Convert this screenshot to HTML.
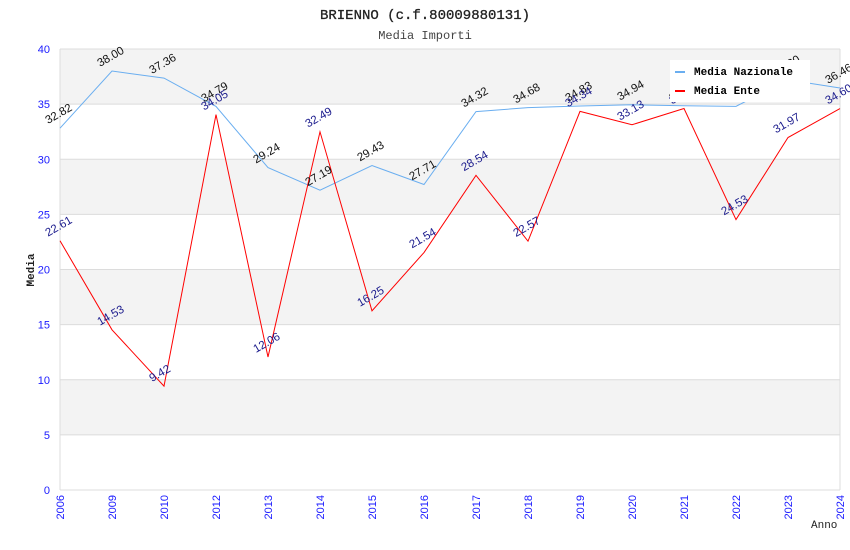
<!DOCTYPE html>
<html><head><meta charset="utf-8"><style>
body{margin:0;background:#fff;}
svg{display:block;font-family:"Liberation Sans",sans-serif;}
.mono{font-family:"Liberation Mono",monospace;}
</style></head><body>
<svg id="chart" width="850" height="550">
<text class="mono" x="425" y="19" text-anchor="middle" font-size="14" fill="#222" stroke="#222" stroke-width="0.3">BRIENNO (c.f.80009880131)</text>
<text class="mono" x="425" y="39" text-anchor="middle" font-size="12" fill="#444">Media Importi</text>
<g id="grid"></g>
<g id="series"></g>
<g id="labels"></g>
<text class="mono" x="34" y="270" transform="rotate(-90 34 270)" text-anchor="middle" font-size="11" font-weight="bold" fill="#222">Media</text>
<text class="mono" x="811" y="528" font-size="11" fill="#222">Anno</text>
<g>
<rect x="670" y="60" width="140" height="42" fill="#fff"/>
<g><rect x="675" y="71" width="10" height="2" fill="#6aaef0"/>
<text class="mono" x="694" y="75" font-size="11" font-weight="bold" fill="#000">Media Nazionale</text></g>
<g><rect x="675" y="90" width="10" height="2" fill="#f00"/>
<text class="mono" x="694" y="94" font-size="11" font-weight="bold" fill="#000">Media Ente</text></g>
</g>
</svg>
<script>
const years=["2006","2009","2010","2012","2013","2014","2015","2016","2017","2018","2019","2020","2021","2022","2023","2024"];
const nazionale=[32.82,38.00,37.36,34.79,29.24,27.19,29.43,27.71,34.32,34.68,34.83,34.94,34.85,34.80,37.20,36.46];
const ente=[22.61,14.53,9.42,34.05,12.06,32.49,16.25,21.54,28.54,22.57,34.34,33.13,34.60,24.53,31.97,34.60];
const yTicks=[0,5,10,15,20,25,30,35,40];
const NS="http://www.w3.org/2000/svg";
const L=60,R=840,T=49,B=490,YMAX=40;
const xs=i=>L+i*(R-L)/(years.length-1);
const ys=v=>B-v/YMAX*(B-T);
function mk(tag,attrs,parent){const e=document.createElementNS(NS,tag);for(const k in attrs)e.setAttribute(k,attrs[k]);parent.appendChild(e);return e;}
const grid=document.getElementById('grid');
for(let i=0;i<yTicks.length-1;i++){
  if(i%2===1){const b=mk('rect',{x:L,y:ys(yTicks[i+1]),width:R-L,height:ys(yTicks[i])-ys(yTicks[i+1]),fill:'#f3f3f3'},grid);
  
  }
}
yTicks.forEach(t=>{
  const l=mk('line',{x1:L,x2:R,y1:ys(t),y2:ys(t),stroke:'#dcdcdc','stroke-width':1},grid);
  
  
  const tx=mk('text',{x:L-10,y:ys(t)+4,'text-anchor':'end','font-size':11,fill:'#1a1aff'},grid);
  tx.textContent=t;
  
  
});
mk('line',{x1:L,x2:L,y1:T,y2:B,stroke:'#dcdcdc'},grid);
mk('line',{x1:R,x2:R,y1:T,y2:B,stroke:'#dcdcdc'},grid);
years.forEach((y,i)=>{
  const tx=mk('text',{x:xs(i)+4,y:B+5,transform:`rotate(-90 ${xs(i)+4} ${B+5})`,'text-anchor':'end','font-size':11,fill:'#1a1aff'},grid);
  tx.textContent=y;
  
  
});
const ser=document.getElementById('series'),lab=document.getElementById('labels');
function draw(vals,color,lcolor,name){
  const p=mk('polyline',{points:vals.map((v,i)=>xs(i)+','+ys(v)).join(' '),fill:'none',stroke:color,'stroke-width':1},ser);
  
  
  vals.forEach((v,i)=>{
    const x=xs(i)-12,y=ys(v)-4;
    const t=mk('text',{x:x,y:y,transform:`rotate(-30 ${x} ${y})`,'font-size':11.5,fill:lcolor},lab);
    t.textContent=v.toFixed(2);
    
    
  });
}
draw(nazionale,'#6aaef0','#111','nazionale');
draw(ente,'#f00','#1a1a8c','ente');
</script>
</body></html>
